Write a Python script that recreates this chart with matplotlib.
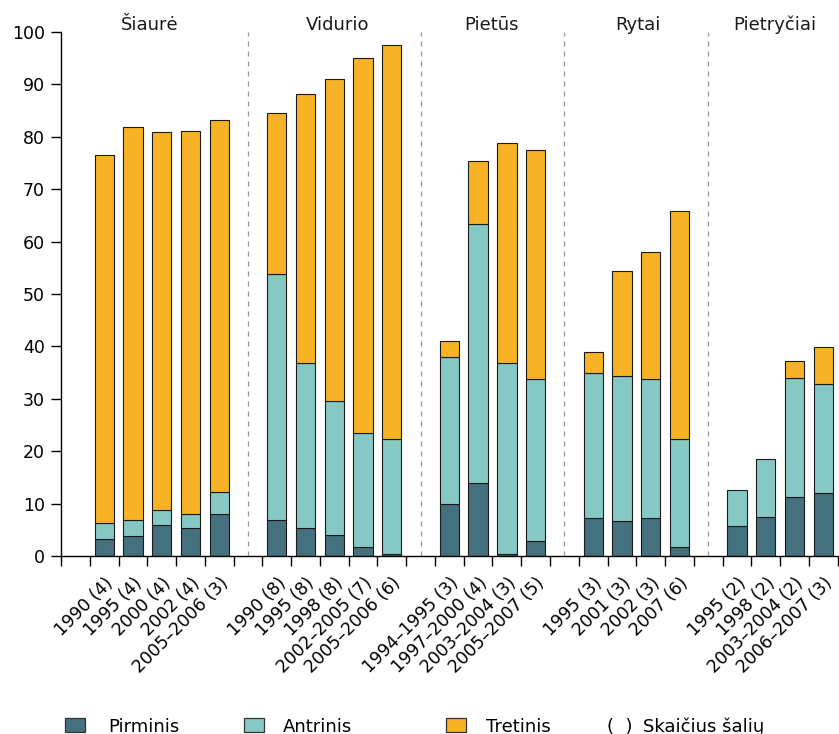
import matplotlib
matplotlib.use("Agg")
import matplotlib.pyplot as plt
from matplotlib.patches import Rectangle

plt.rcParams["font.family"] = ["DejaVu Sans"]

# Regions and their survey years (number of countries in parentheses)
regions = ["Šiaurė", "Vidurio", "Pietūs", "Rytai", "Pietryčiai"]
labels_siaure = ["1990 (4)", "1995 (4)", "2000 (4)", "2002 (4)", "2005–2006 (3)"]
labels_vidurio = ["1990 (8)", "1995 (8)", "1998 (8)", "2002–2005 (7)", "2005–2006 (6)"]
labels_pietus = ["1994–1995 (3)", "1997–2000 (4)", "2003–2004 (3)", "2005–2007 (5)"]
labels_rytai = ["1995 (3)", "2001 (3)", "2002 (3)", "2007 (6)"]
labels_pietryciai = ["1995 (2)", "1998 (2)", "2003–2004 (2)", "2006–2007 (3)"]

# Shares of treatment level (%), per region
pirminis_siaure = [3.2, 3.8, 5.9, 5.3, 8.1]
antrinis_siaure = [3.1, 3.0, 2.8, 2.8, 4.1]
tretinis_siaure = [70.2, 75.0, 72.2, 73.1, 71.1]

pirminis_vidurio = [6.9, 5.4, 4.1, 1.7, 0.3]
antrinis_vidurio = [46.9, 31.4, 25.4, 21.8, 22.0]
tretinis_vidurio = [30.7, 51.4, 61.5, 71.6, 75.2]

pirminis_pietus = [10.0, 13.9, 0.3, 2.9]
antrinis_pietus = [28.0, 49.4, 36.5, 30.9]
tretinis_pietus = [3.0, 12.0, 42.0, 43.7]

pirminis_rytai = [7.2, 6.6, 7.2, 1.7]
antrinis_rytai = [27.8, 27.8, 26.6, 20.6]
tretinis_rytai = [4.0, 20.0, 24.2, 43.5]

pirminis_pietryciai = [5.7, 7.5, 11.2, 12.1]
antrinis_pietryciai = [6.8, 11.1, 22.8, 20.7]
tretinis_pietryciai = [0.0, 0.0, 3.2, 7.1]

groups = [
    (labels_siaure, pirminis_siaure, antrinis_siaure, tretinis_siaure),
    (labels_vidurio, pirminis_vidurio, antrinis_vidurio, tretinis_vidurio),
    (labels_pietus, pirminis_pietus, antrinis_pietus, tretinis_pietus),
    (labels_rytai, pirminis_rytai, antrinis_rytai, tretinis_rytai),
    (labels_pietryciai, pirminis_pietryciai, antrinis_pietryciai, tretinis_pietryciai),
]

c_pirm = "#45717f"
c_antr = "#86c9c4"
c_tret = "#f7b325"
edge = "#1a1a1a"

fig = plt.figure(figsize=(8.39, 7.34), dpi=100)
ax = fig.add_axes([61 / 839, 1 - 556 / 734, (837.7 - 61) / 839, (556 - 32) / 734])

# Lay the groups out on unit slots: one empty slot at the start and one
# separator slot between neighbouring groups.
slot = 1
xs, xlabels, seps = [], [], []
for gi, (labs, p, a, t) in enumerate(groups):
    pos = [slot + i + 0.5 for i in range(len(labs))]
    xs.extend(pos)
    xlabels.extend(labs)
    bot2 = [pi + ai for pi, ai in zip(p, a)]
    kw = dict(width=0.67, edgecolor=edge, linewidth=0.8)
    ax.bar(pos, p, color=c_pirm, **kw)
    ax.bar(pos, a, bottom=p, color=c_antr, **kw)
    t_pos = [x for x, v in zip(pos, t) if v > 0]
    t_val = [v for v in t if v > 0]
    t_bot = [b for b, v in zip(bot2, t) if v > 0]
    ax.bar(t_pos, t_val, bottom=t_bot, color=c_tret, **kw)
    slot += len(labs)
    if gi < len(groups) - 1:
        seps.append(slot + 0.5)
        slot += 1

for s in seps:
    ax.axvline(s, ymin=0, ymax=1, color="#999999", linestyle=(0, (4, 4)),
               linewidth=0.9, zorder=0)

title_x = [3.1, 9.6, 14.95, 20.05, 24.8]
for name, x in zip(regions, title_x):
    ax.text(x, 100.4, name, ha="center", va="baseline", fontsize=13,
            color="#1a1a1a", clip_on=False)

ax.set_xlim(0, slot)
ax.set_ylim(0, 100)
ax.set_yticks(range(0, 101, 10))
ax.tick_params(axis="y", labelsize=12.5, length=7.2, width=1, pad=4.3)

ax.set_xticks(range(0, slot + 1))
ax.set_xticklabels([])
ax.set_xticks(xs, minor=True)
ax.set_xticklabels(xlabels, minor=True, rotation=45, ha="right",
                   rotation_mode="anchor", fontsize=12.5)
ax.tick_params(axis="x", which="major", length=7.5, width=1)
ax.tick_params(axis="x", which="minor", length=0, pad=13)

for side in ("top", "right"):
    ax.spines[side].set_visible(False)
for side in ("left", "bottom"):
    ax.spines[side].set_linewidth(1)

# Legend along the bottom edge
W, H = 839, 734
def px(x, y):
    return x / W, 1 - y / H

legend_items = [(65.3, 108.3, c_pirm, "Pirminis"),
                (244.0, 282.7, c_antr, "Antrinis"),
                (446.0, 485.7, c_tret, "Tretinis")]
for sx, tx, col, lab in legend_items:
    x0, y0 = px(sx, 732)
    fig.add_artist(Rectangle((x0, y0), 20 / W, 14 / H, transform=fig.transFigure,
                             facecolor=col, edgecolor="#333333", linewidth=0.9))
    fig.text(*px(tx, 731.5), lab, fontsize=13, va="baseline", ha="left")
fig.text(*px(606.7, 731.5), "(  )", fontsize=13, va="baseline", ha="left")
fig.text(*px(642.7, 731.5), "Skaičius šalių", fontsize=13, va="baseline", ha="left")

fig.savefig("out.png", dpi=100)
